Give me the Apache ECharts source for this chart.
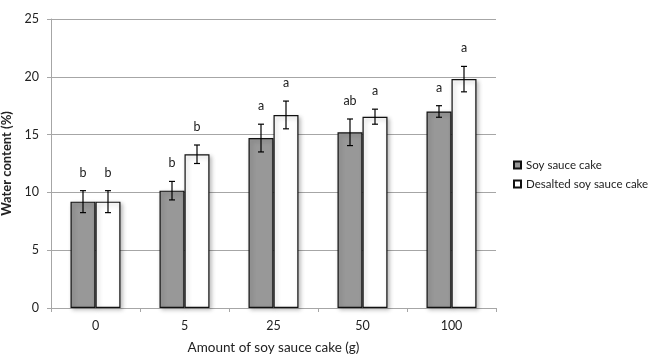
<!DOCTYPE html>
<html><head><meta charset="utf-8">
<script src="https://cdn.jsdelivr.net/npm/echarts@6/dist/echarts.min.js"></script>
<style>html,body{margin:0;padding:0;background:#fff}#c{width:648px;height:357px}</style>
</head><body><div id="c"></div>
<script>
const categories = ['0','5','25','50','100'];
const soyValues = [9.2, 10.15, 14.7, 15.2, 17.0];
const soyErrors = [0.95, 0.8, 1.2, 1.15, 0.5];
const soyLetters = ['b','b','a','ab','a'];
const desaltedValues = [9.2, 13.3, 16.7, 16.55, 19.8];
const desaltedErrors = [0.95, 0.8, 1.2, 0.65, 1.1];
const desaltedLetters = ['b','b','a','a','a'];
const yTicks = [0,5,10,15,20,25];

const FONT = 'Lato, "Open Sans", sans-serif';
const BAR_W = 25;

function errSeries(values, errors, letters, dx) {
  return {
    type: 'custom',
    data: values.map((v,i)=>[i, v, errors[i]]),
    z: 10,
    renderItem: function(params, api){
      const c = api.coord([api.value(0), api.value(1)]);
      const x = c[0] + dx;
      const hi = api.coord([api.value(0), api.value(1)+api.value(2)])[1];
      const lo = api.coord([api.value(0), api.value(1)-api.value(2)])[1];
      const st = {stroke:'#000', lineWidth:1.2};
      return {type:'group', children:[
        {type:'line', shape:{x1:x,y1:hi,x2:x,y2:lo}, style:st},
        {type:'line', shape:{x1:x-3,y1:hi,x2:x+3,y2:hi}, style:st},
        {type:'line', shape:{x1:x-3,y1:lo,x2:x+3,y2:lo}, style:st},
        {type:'text', style:{text: letters[params.dataIndex], x:x, y:hi-18, align:'center', verticalAlign:'middle', fill:'#222', font:'12.5px '+FONT}}
      ]};
    }
  };
}

const chart = echarts.init(document.getElementById('c'), null, {renderer:'canvas'});
chart.setOption({
  animation:false,
  backgroundColor:'#fff',
  grid:{left:51, right:152, top:19, bottom:49, containLabel:false, outerBoundsMode:'none'},
  legend:{
    orient:'vertical', left:508, top:154, itemWidth:7, itemHeight:7, itemGap:7,
    icon:'rect',
    textStyle:{fontFamily:FONT, fontSize:11.5, color:'#222'},
    data:['Soy sauce cake','Desalted soy sauce cake']
  },
  xAxis:{
    type:'category', data:categories, boundaryGap:true,
    axisLine:{lineStyle:{color:'#a6a6a6'}},
    axisTick:{show:true, length:4, lineStyle:{color:'#a6a6a6'}},
    axisLabel:{fontFamily:FONT, fontSize:12.5, color:'#222', margin:11},
    name:'Amount of soy sauce cake (g)', nameLocation:'middle', nameGap:33,
    nameTextStyle:{fontFamily:FONT, fontSize:13.5, color:'#222'}
  },
  yAxis:{
    type:'value', min:0, max:25, interval:5,
    axisLine:{show:true, lineStyle:{color:'#a6a6a6'}},
    axisTick:{show:true, length:4, lineStyle:{color:'#a6a6a6'}},
    splitLine:{lineStyle:{color:'#a6a6a6'}},
    axisLabel:{fontFamily:FONT, fontSize:12.5, color:'#222', margin:12,
      formatter:(v)=> yTicks.includes(v) ? String(v) : ''},
    name:'Water content (%)', nameLocation:'middle', nameGap:29, nameRotate:90,
    nameTextStyle:{fontFamily:FONT, fontSize:13, fontWeight:'bold', color:'#222'}
  },
  series:[
    {name:'Soy sauce cake', type:'bar', data:soyValues, barWidth:BAR_W, barGap:'0%',
     itemStyle:{color:'#989898', borderColor:'#111', borderWidth:1.2,
       shadowColor:'rgba(0,0,0,0.25)', shadowBlur:4, shadowOffsetX:2, shadowOffsetY:2}},
    {name:'Desalted soy sauce cake', type:'bar', data:desaltedValues, barWidth:BAR_W, barGap:'0%',
     itemStyle:{color:'#ffffff', borderColor:'#111', borderWidth:1.2,
       shadowColor:'rgba(0,0,0,0.25)', shadowBlur:4, shadowOffsetX:2, shadowOffsetY:2}},
    errSeries(soyValues, soyErrors, soyLetters, -BAR_W/2),
    errSeries(desaltedValues, desaltedErrors, desaltedLetters, BAR_W/2)
  ]
});
</script></body></html>
